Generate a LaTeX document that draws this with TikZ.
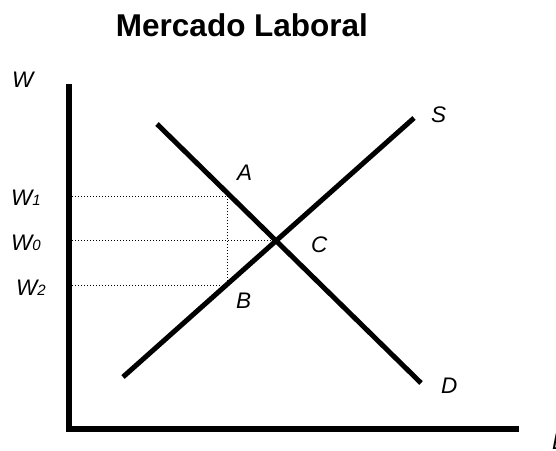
\documentclass[tikz,border=0pt]{standalone}
\usepackage{fontspec}
\setmainfont{Liberation Sans}
\usetikzlibrary{positioning}
\tikzset{
  axis/.style={line width=6.5pt, line join=miter},
  curve/.style={line width=5pt},
  guide/.style={line width=1pt, dash pattern=on 1pt off 2pt},
  lbl/.style={font=\fontsize{22.5}{26}\selectfont\itshape, inner sep=0pt, anchor=base west},
  ttl/.style={font=\fontsize{31.5}{36}\selectfont\bfseries, inner sep=0pt, anchor=base},
}
\newcommand{\wsub}[1]{{\fontsize{15}{17}\selectfont #1}}

\begin{document}
\begin{tikzpicture}[x=1pt,y=-1pt]
\useasboundingbox (0,0) rectangle (556,450);
\coordinate (wtop) at (69,84);
\coordinate (lend) at (519,429);
\coordinate (s0) at (123,377);
\coordinate (s1) at (414,118);
\coordinate (d0) at (157,124);
\coordinate (d1) at (421,383);
\coordinate (e) at (intersection of s0--s1 and d0--d1);
\coordinate (a) at (227,196);
\coordinate (b) at (227,285);
\draw[guide] (wtop |- a) -- (a);
\draw[guide] (wtop |- e) -- (e);
\draw[guide] (wtop |- b) -- (b);
\draw[guide] (a) -- (b);
\draw[axis] (wtop) |- (lend);
\draw[curve] (s0) -- (s1);
\draw[curve] (d0) -- (d1);
\node[ttl] (title) at (242,36.5) {Mercado Laboral};
\node[lbl] (w) at (12,87) {W};
\node[lbl] (w1) at (11,205) {W\wsub{1}};
\node[lbl] (w0) at (11,250) {W\wsub{0}};
\node[lbl] (w2) at (16,295) {W\wsub{2}};
\node[lbl] (la) at (237,180) {A};
\node[lbl] (lb) at (236,308) {B};
\node[lbl] (lc) at (311,252) {C};
\node[lbl] (ls) at (431,122) {S};
\node[lbl] (ld) at (441,393) {D};
\node[lbl] (ll) at (552,449) {L};
\end{tikzpicture}
\end{document}
